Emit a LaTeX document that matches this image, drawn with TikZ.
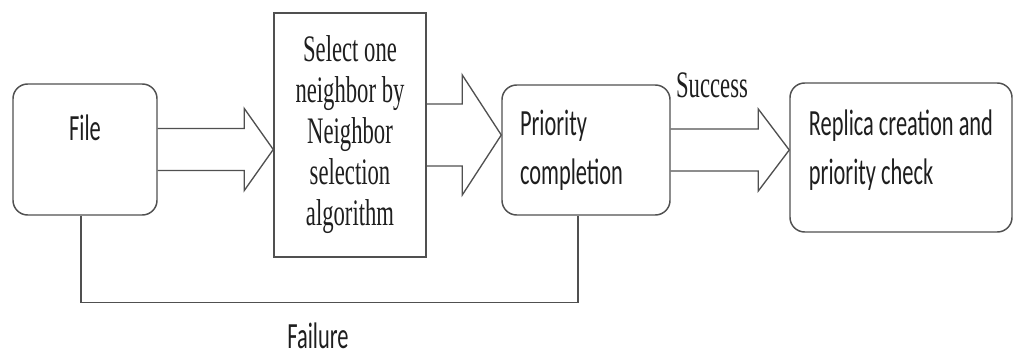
\documentclass[tikz,border=0pt]{standalone}
\usepackage{fontspec}
\usepackage{graphicx}
\setmainfont{Liberation Serif}
\newfontfamily\carlito{Carlito}
\usetikzlibrary{calc}

% text in the picture is drawn tall and narrow
\newcommand{\tallbox}[1]{\scalebox{1}[1.65]{#1}}
\newcommand{\serifstack}[1]{\tallbox{\fontsize{17}{18.6}\selectfont\begin{tabular}{@{}c@{}}#1\end{tabular}}}
\newcommand{\sansstack}[2][0pt]{\tallbox{\carlito\fontsize{16.8}{22.7}\selectfont\begin{tabular}{@{}l@{}}#2\\[#1]\end{tabular}}}
\newcommand{\sanstag}[1]{\tallbox{\carlito\fontsize{16.8}{22.7}\selectfont #1}}

% hollow block arrow: start, tip, shaft half width, head half width, head length
\newcommand{\blockarrow}[5]{%
  \draw[arrowline] ($(#1)+(0,-#3)$) -- ($(#2)+(-#5,-#3)$) -- ($(#2)+(-#5,-#4)$) -- (#2)
    -- ($(#2)+(-#5,#4)$) -- ($(#2)+(-#5,#3)$) -- ($(#1)+(0,#3)$);}

\definecolor{edgegray}{RGB}{80,80,80}
\definecolor{inkgray}{RGB}{30,30,30}

\tikzset{
  boxline/.style={draw=edgegray, line width=1.1pt},
  roundbox/.style={boxline, rounded corners=11pt, inner sep=0pt, text=inkgray},
  squarebox/.style={boxline, inner sep=0pt, text=inkgray},
  arrowline/.style={draw=edgegray, line width=1pt},
  tag/.style={inner sep=0pt, text=inkgray}
}

\begin{document}
\begin{tikzpicture}[x=0.75pt,y=0.75pt,yscale=-1,xscale=1]
\useasboundingbox (0,0) rectangle (1014,356);

% boxes
\node[roundbox, minimum width=108pt, minimum height=98.25pt] (file) at (85,149.5) {\sansstack[17.7pt]{File}};
\node[squarebox, minimum width=114pt, minimum height=183pt] (select) at (350,135) {\serifstack{Select one\\neighbor by\\Neighbor\\selection\\algorithm}};
\node[roundbox, minimum height=97.5pt, text width=99pt, inner xsep=13.5pt, align=left] (prio) at (586,150) {\sansstack{Priority\\completion}};
\node[roundbox, minimum width=166.5pt, minimum height=111.75pt] (replica) at (901,157.5) {\sansstack[6.8pt]{Replica creation and\\priority check}};

% arrow tips
\coordinate (tip1) at (file.east -| select.west);
\coordinate (tip2) at (select.east -| prio.west);
\coordinate (tip3) at (prio.east -| replica.west);

\blockarrow{file.east}{tip1}{21}{41}{29}
\blockarrow{select.east}{tip2}{31}{60}{39}
\blockarrow{prio.east}{tip3}{21}{41}{31}

% failure loop
\coordinate (failstart) at ($(file.south)+(-4,0)$);
\coordinate (failend) at ($(prio.south)+(-8,0)$);
\draw[boxline] (failstart) -- ($(failstart)+(0,87)$) -| (failend);

% labels
\node[tag] (success) at (712,89) {\serifstack{Success}};
\node[tag] (failure) at (318,336) {\sanstag{Failure}};

\end{tikzpicture}
\end{document}
